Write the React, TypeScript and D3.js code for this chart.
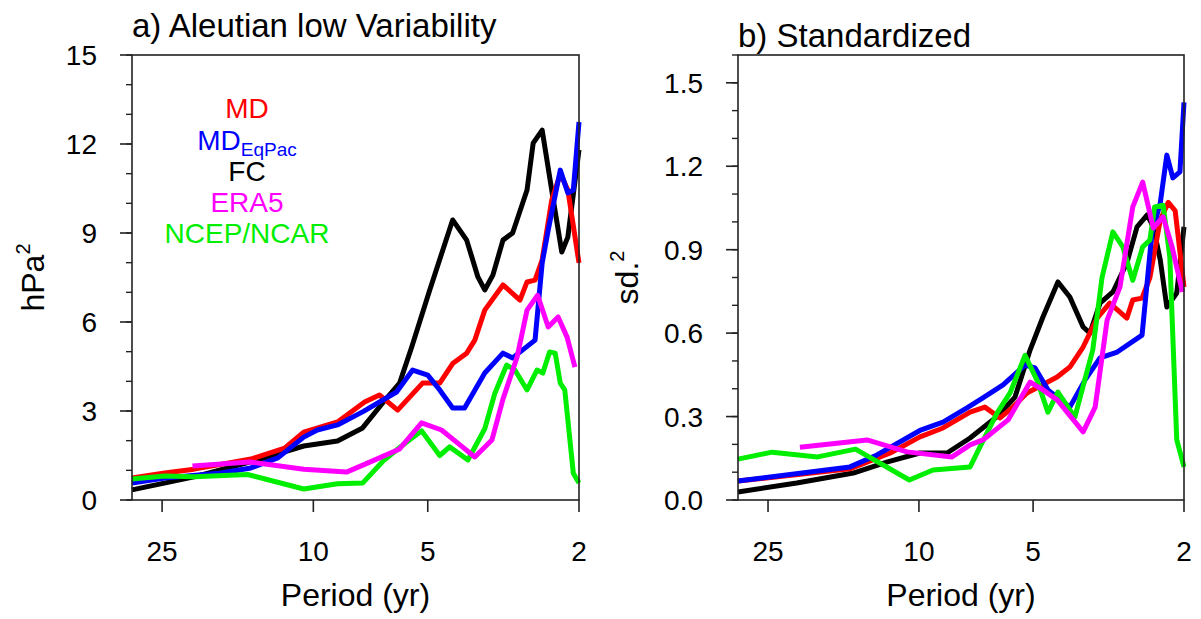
import React, { useEffect, useRef } from 'react';
import * as d3 from 'd3';

// ---- panel a) Aleutian low variability, hPa^2 vs period (yr)
const fcPeriodA = [30, 20.6, 14.0, 10.6, 8.64, 7.42, 6.57, 5.93, 5.51, 4.94, 4.3, 3.95, 3.69, 3.54, 3.37, 3.17, 2.99, 2.74, 2.64, 2.5, 2.36, 2.22, 2.14, 2.0];
const fcValueA = [0.34, 0.78, 1.35, 1.82, 1.99, 2.43, 3.27, 3.94, 5.16, 7.08, 9.44, 8.76, 7.52, 7.08, 7.58, 8.76, 9.0, 10.45, 12.03, 12.47, 10.45, 8.36, 8.86, 11.8];

const mdPeriodA = [30, 24.6, 20.6, 14.6, 11.9, 10.6, 8.64, 7.33, 6.7, 6.0, 5.16, 4.65, 4.3, 3.95, 3.76, 3.54, 3.17, 2.86, 2.74, 2.61, 2.5, 2.36, 2.24, 2.14, 2.0];
const mdValueA = [0.74, 0.91, 1.04, 1.38, 1.75, 2.29, 2.63, 3.3, 3.54, 3.03, 3.94, 3.94, 4.6, 4.95, 5.39, 6.4, 7.25, 6.74, 7.35, 7.41, 8.1, 10.1, 11.0, 10.45, 7.99];

const eqPeriodA = [30, 24.6, 17.5, 14.6, 12.4, 10.6, 9.76, 8.64, 7.4, 6.04, 5.48, 5.0, 4.65, 4.3, 4.0, 3.54, 3.17, 2.99, 2.61, 2.5, 2.41, 2.24, 2.14, 2.07, 2.0];
const eqValueA = [0.57, 0.74, 0.91, 1.08, 1.42, 2.12, 2.36, 2.53, 2.98, 3.64, 4.38, 4.21, 3.71, 3.1, 3.1, 4.28, 4.95, 4.79, 5.39, 7.99, 9.1, 11.12, 10.35, 10.45, 12.74];

const era5PeriodA = [20.8, 14.7, 10.6, 8.18, 7.33, 5.93, 5.19, 4.6, 4.2, 3.76, 3.39, 3.17, 2.91, 2.74, 2.57, 2.41, 2.27, 2.15, 2.05];
const era5ValueA = [1.15, 1.28, 1.04, 0.94, 1.2, 1.72, 2.6, 2.36, 1.95, 1.45, 2.02, 3.4, 4.82, 6.4, 6.9, 5.83, 6.17, 5.49, 4.48];

const ncepPeriodA = [30, 24.6, 20.6, 14.9, 10.6, 8.64, 7.42, 6.57, 5.93, 5.19, 4.65, 4.38, 3.92, 3.54, 3.33, 3.1, 2.95, 2.74, 2.58, 2.49, 2.39, 2.31, 2.24, 2.18, 2.07, 2.0];
const ncepValueA = [0.71, 0.81, 0.78, 0.86, 0.37, 0.55, 0.57, 1.3, 1.77, 2.33, 1.5, 1.79, 1.35, 2.4, 3.6, 4.55, 4.38, 3.71, 4.38, 4.28, 4.99, 4.95, 3.94, 3.71, 0.9, 0.57];

// ---- panel b) standardized, sd^2 vs period (yr)
const fcPeriodB = [30, 21.0, 14.9, 12.1, 9.94, 8.43, 7.33, 6.22, 5.58, 5.09, 4.71, 4.3, 4.0, 3.69, 3.54, 3.33, 3.08, 2.83, 2.66, 2.5, 2.41, 2.31, 2.22, 2.09, 2.0];
const fcValueB = [0.029, 0.061, 0.097, 0.137, 0.169, 0.169, 0.223, 0.3, 0.37, 0.54, 0.658, 0.784, 0.73, 0.622, 0.6, 0.708, 0.748, 0.852, 0.982, 1.025, 0.982, 0.863, 0.694, 0.744, 0.982];

const mdPeriodB = [30, 15.2, 11.9, 9.94, 8.64, 7.33, 6.7, 6.11, 5.65, 5.19, 4.32, 4.0, 3.69, 3.39, 3.14, 2.83, 2.73, 2.58, 2.46, 2.31, 2.2, 2.11, 2.0];
const mdValueB = [0.068, 0.112, 0.169, 0.227, 0.259, 0.316, 0.334, 0.295, 0.334, 0.385, 0.442, 0.478, 0.55, 0.654, 0.708, 0.654, 0.719, 0.726, 0.8, 1.007, 1.07, 1.04, 0.766];

const eqPeriodB = [30, 15.2, 12.9, 9.94, 8.64, 7.47, 6.78, 6.0, 5.25, 4.94, 4.57, 4.0, 3.65, 3.33, 3.0, 2.58, 2.43, 2.31, 2.22, 2.14, 2.05, 2.0];
const eqValueB = [0.068, 0.119, 0.162, 0.25, 0.28, 0.331, 0.367, 0.414, 0.485, 0.475, 0.396, 0.334, 0.431, 0.511, 0.532, 0.593, 0.96, 1.068, 1.24, 1.158, 1.18, 1.43];

const era5PeriodB = [20.6, 13.7, 10.75, 8.18, 7.33, 6.78, 5.82, 5.09, 4.71, 4.32, 3.69, 3.43, 3.19, 2.95, 2.73, 2.57, 2.41, 2.27, 2.15, 2.02];
const era5ValueB = [0.19, 0.216, 0.173, 0.155, 0.198, 0.216, 0.288, 0.424, 0.396, 0.36, 0.245, 0.334, 0.647, 0.766, 1.054, 1.143, 0.978, 1.018, 0.91, 0.748];

const ncepPeriodB = [30, 24.4, 18.5, 14.7, 10.6, 9.18, 7.33, 6.82, 6.22, 5.75, 5.25, 4.88, 4.57, 4.3, 3.88, 3.48, 3.29, 3.08, 2.9, 2.73, 2.57, 2.46, 2.39, 2.27, 2.18, 2.09, 2.0];
const ncepValueB = [0.147, 0.172, 0.155, 0.183, 0.072, 0.108, 0.119, 0.205, 0.313, 0.385, 0.52, 0.43, 0.316, 0.388, 0.298, 0.54, 0.8, 0.964, 0.91, 0.79, 0.91, 0.935, 1.054, 1.06, 0.874, 0.216, 0.119];

const xTicks = [25, 10, 5, 2];
const yTicksA = [0, 3, 6, 9, 12, 15];
const yTicksB = [0, 0.3, 0.6, 0.9, 1.2, 1.5];

const FONT = "'Liberation Sans', Arial, Helvetica, sans-serif";

const panels = [
  {
    left: 132, right: 579, title: 'a) Aleutian low Variability', titleY: 37,
    yMax: 15, yTicks: yTicksA, minorStep: 1, fmt: (d: number) => String(d),
    ylabel: 'hPa', ylabelX: 44,
    series: [
      { p: fcPeriodA, v: fcValueA, color: '#000000' },
      { p: mdPeriodA, v: mdValueA, color: '#ff0000' },
      { p: eqPeriodA, v: eqValueA, color: '#0000ff' },
      { p: ncepPeriodA, v: ncepValueA, color: '#00ee00' },
      { p: era5PeriodA, v: era5ValueA, color: '#ff00ff' },
    ],
  },
  {
    left: 738, right: 1184, title: 'b) Standardized', titleY: 47,
    yMax: 1.6, yTicks: yTicksB, minorStep: 0.1, fmt: (d: number) => d.toFixed(1),
    ylabel: 'sd.', ylabelX: 638,
    series: [
      { p: fcPeriodB, v: fcValueB, color: '#000000' },
      { p: mdPeriodB, v: mdValueB, color: '#ff0000' },
      { p: eqPeriodB, v: eqValueB, color: '#0000ff' },
      { p: ncepPeriodB, v: ncepValueB, color: '#00ee00' },
      { p: era5PeriodB, v: era5ValueB, color: '#ff00ff' },
    ],
  },
];

const legend = [
  { name: 'MD', sub: '', color: '#ff0000' },
  { name: 'MD', sub: 'EqPac', color: '#0000ff' },
  { name: 'FC', sub: '', color: '#000000' },
  { name: 'ERA5', sub: '', color: '#ff00ff' },
  { name: 'NCEP/NCAR', sub: '', color: '#00ee00' },
];
const legendY = [118, 150, 181, 212, 243];

const App = () => {
  const svgRef = useRef<SVGSVGElement>(null);

  useEffect(() => {
    const svg = d3.select(svgRef.current);
    svg.selectAll('*').remove();
    const top = 55;
    const bottom = 500;

    panels.forEach((pn, pi) => {
      const x = d3.scaleLog().domain([30, 2]).range([pn.left, pn.right]);
      const y = d3.scaleLinear().domain([0, pn.yMax]).range([bottom, top]);
      const g = svg.append('g');

      // series lines
      const line = d3.line<[number, number]>()
        .x(d => x(d[0]))
        .y(d => y(d[1]));
      pn.series.forEach(s => {
        const pts = s.p.map((p, i) => [p, s.v[i]] as [number, number]);
        g.append('path')
          .attr('d', line(pts))
          .attr('fill', 'none')
          .attr('stroke', s.color)
          .attr('stroke-width', 5)
          .attr('stroke-linejoin', 'round');
      });

      // frame
      g.append('rect')
        .attr('x', pn.left).attr('y', top)
        .attr('width', pn.right - pn.left).attr('height', bottom - top)
        .attr('fill', 'none').attr('stroke', '#222').attr('stroke-width', 1.6);

      // y ticks (major + minor, outward)
      const minor = d3.range(0, pn.yMax + 1e-9, pn.minorStep);
      g.selectAll('.ymin').data(minor).enter().append('line')
        .attr('x1', pn.left - 6).attr('x2', pn.left)
        .attr('y1', d => y(d)).attr('y2', d => y(d))
        .attr('stroke', '#222').attr('stroke-width', 1.4);
      g.selectAll('.ymaj').data(pn.yTicks).enter().append('line')
        .attr('x1', pn.left - 12).attr('x2', pn.left)
        .attr('y1', d => y(d)).attr('y2', d => y(d))
        .attr('stroke', '#222').attr('stroke-width', 1.6);
      g.selectAll('.ylab').data(pn.yTicks).enter().append('text')
        .attr('x', pn.left - 35).attr('y', d => y(d)).attr('dy', '0.36em')
        .attr('text-anchor', 'end')
        .style('font-family', FONT).style('font-size', '28px')
        .text(d => pn.fmt(d));

      // x ticks
      g.selectAll('.xt').data(xTicks).enter().append('line')
        .attr('x1', d => x(d)).attr('x2', d => x(d))
        .attr('y1', bottom).attr('y2', bottom + 12)
        .attr('stroke', '#222').attr('stroke-width', 1.6);
      g.selectAll('.xlab').data(xTicks).enter().append('text')
        .attr('x', d => x(d)).attr('y', 561)
        .attr('text-anchor', 'middle')
        .style('font-family', FONT).style('font-size', '28px')
        .text(d => String(d));

      // axis titles
      g.append('text')
        .attr('x', (pn.left + pn.right) / 2).attr('y', 606)
        .attr('text-anchor', 'middle')
        .style('font-family', FONT).style('font-size', '32px')
        .text('Period (yr)');

      const yl = g.append('text')
        .attr('transform', `translate(${pn.ylabelX},${(top + bottom) / 2}) rotate(-90)`)
        .attr('text-anchor', 'middle')
        .style('font-family', FONT).style('font-size', '32px');
      yl.append('tspan').text(pn.ylabel);
      yl.append('tspan').attr('dy', -14).style('font-size', '20px').text('2');

      g.append('text')
        .attr('x', pn.left).attr('y', pn.titleY)
        .style('font-family', FONT).style('font-size', '33px')
        .text(pn.title);

      // legend in panel a
      if (pi === 0) {
        legend.forEach((l, i) => {
          const t = g.append('text')
            .attr('x', 247).attr('y', legendY[i])
            .attr('text-anchor', 'middle')
            .attr('fill', l.color)
            .style('font-family', FONT).style('font-size', '28px');
          t.append('tspan').text(l.name);
          if (l.sub) {
            t.append('tspan').attr('dy', 6).style('font-size', '19px').text(l.sub);
          }
        });
      }
    });
  }, []);

  return (
    <svg
      ref={svgRef}
      width={1201}
      height={619}
      style={{ position: 'absolute', left: 0, top: 0, background: '#fff' }}
    />
  );
};

export default App;
